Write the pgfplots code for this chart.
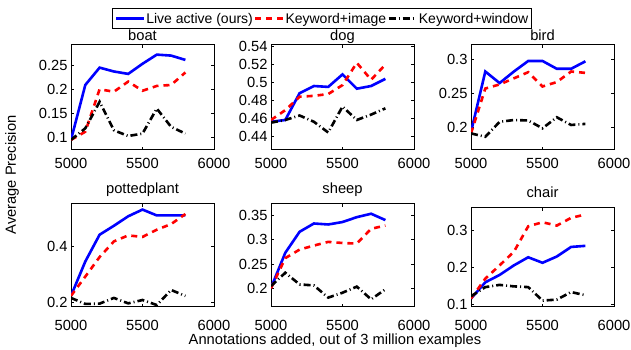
\documentclass[border=0pt]{standalone}
\usepackage{pgfplots}
\pgfplotsset{compat=1.18}
\usepackage{fontspec}
\setmainfont{Liberation Sans}
\newcommand{\fs}{\fontsize{14.7}{17}\selectfont}
\newcommand{\fl}{\fontsize{14}{16}\selectfont}
\pgfplotsset{
  myax/.style={
    scale only axis, width=143pt, height=105pt,
    xmin=5000, xmax=6000, xtick={5000,5500,6000},
    tick align=inside, tick pos=both, major tick length=3pt,
    axis line style={line width=1pt}, every tick/.style={black, line width=0.8pt},
    /pgf/number format/assume math mode=true,
    /pgf/number format/set thousands separator={},
    font=\fs, tick label style={font=\fs},
    xticklabel style={yshift=-5pt},
    title style={at={(0.5,1)}, anchor=base, yshift=-2pt, font=\fs},
    clip=true,
  },
  lowrow/.style={height=103pt, title style={yshift=6pt}, xticklabel style={yshift=-5pt}},
  s1/.style={color={rgb,255:red,0;green,0;blue,255}, line width=2.6pt, solid},
  s2/.style={color={rgb,255:red,255;green,0;blue,0}, line width=2.6pt, dash pattern=on 6pt off 5pt},
  s3/.style={black, line width=2.6pt, dash pattern=on 7pt off 3pt on 1pt off 3pt},
}
\begin{document}
\begin{tikzpicture}
\path[use as bounding box] (0,0) rectangle (631pt,350pt);
% boat
\begin{axis}[myax, at={(71pt,305pt)}, anchor=north west, title={boat},
  ymin=0.074, ymax=0.292, ytick={0.1,0.15,0.2,0.25},
  legend style={at={(1.755,1.25)}, anchor=center, legend columns=3, draw=black, line width=1pt,
    font=\fl, inner xsep=2pt, inner ysep=3pt, nodes={inner sep=1pt},
    /tikz/every even column/.append style={column sep=0pt}},
  legend image code/.code={\draw[#1] plot coordinates {(0pt,0pt) (14pt,0pt) (28pt,0pt)};},
  legend cell align=left]
\addplot[s1] coordinates {(5000,0.095) (5100,0.209) (5200,0.245) (5300,0.237) (5400,0.232) (5500,0.253) (5600,0.272) (5700,0.270) (5800,0.261)};
\addplot[s2] coordinates {(5000,0.095) (5100,0.112) (5200,0.200) (5300,0.195) (5400,0.216) (5500,0.197) (5600,0.207) (5700,0.209) (5800,0.235)};
\addplot[s3] coordinates {(5000,0.095) (5100,0.119) (5200,0.174) (5300,0.115) (5400,0.103) (5500,0.108) (5600,0.160) (5700,0.122) (5800,0.108)};
\legend{Live active (ours),Keyword+image,Keyword+window}
\end{axis}
% dog
\begin{axis}[myax, at={(271pt,305pt)}, anchor=north west, title={dog},
  ymin=0.4244, ymax=0.5419, ytick={0.44,0.46,0.48,0.5,0.52,0.54}]
\addplot[s1] coordinates {(5000,0.456) (5100,0.458) (5200,0.488) (5300,0.496) (5400,0.495) (5500,0.509) (5600,0.493) (5700,0.496) (5800,0.504)};
\addplot[s2] coordinates {(5000,0.458) (5100,0.469) (5200,0.484) (5300,0.485) (5400,0.487) (5500,0.497) (5600,0.522) (5700,0.503) (5800,0.520)};
\addplot[s3] coordinates {(5000,0.455) (5100,0.458) (5200,0.463) (5300,0.456) (5400,0.444) (5500,0.473) (5600,0.458) (5700,0.464) (5800,0.471)};
\end{axis}
% bird
\begin{axis}[myax, at={(471pt,305pt)}, anchor=north west, title={bird},
  ymin=0.1666, ymax=0.321, ytick={0.2,0.25,0.3}]
\addplot[s1] coordinates {(5000,0.193) (5100,0.282) (5200,0.265) (5300,0.282) (5400,0.2975) (5500,0.2975) (5600,0.286) (5700,0.286) (5800,0.297)};
\addplot[s2] coordinates {(5000,0.191) (5100,0.257) (5200,0.263) (5300,0.272) (5400,0.281) (5500,0.260) (5600,0.2665) (5700,0.282) (5800,0.280)};
\addplot[s3] coordinates {(5000,0.191) (5100,0.186) (5200,0.208) (5300,0.2107) (5400,0.210) (5500,0.1985) (5600,0.2147) (5700,0.2034) (5800,0.205)};
\end{axis}
% pottedplant
\begin{axis}[myax, lowrow, at={(71pt,146pt)}, anchor=north west, title={pottedplant},
  ymin=0.183, ymax=0.552, ytick={0.2,0.4}]
\addplot[s1] coordinates {(5000,0.223) (5100,0.346) (5200,0.442) (5300,0.474) (5400,0.508) (5500,0.532) (5600,0.511) (5700,0.511) (5800,0.511)};
\addplot[s2] coordinates {(5000,0.223) (5100,0.292) (5200,0.362) (5300,0.418) (5400,0.4395) (5500,0.434) (5600,0.460) (5700,0.480) (5800,0.516)};
\addplot[s3] coordinates {(5000,0.2155) (5100,0.194) (5200,0.195) (5300,0.2155) (5400,0.196) (5500,0.208) (5600,0.190) (5700,0.244) (5800,0.2226)};
\end{axis}
% sheep
\begin{axis}[myax, lowrow, at={(271pt,146pt)}, anchor=north west, title={sheep},
  ymin=0.1617, ymax=0.373, ytick={0.2,0.25,0.3,0.35}]
\addplot[s1] coordinates {(5000,0.201) (5100,0.273) (5200,0.316) (5300,0.333) (5400,0.331) (5500,0.336) (5600,0.346) (5700,0.353) (5800,0.340)};
\addplot[s2] coordinates {(5000,0.200) (5100,0.262) (5200,0.2795) (5300,0.2877) (5400,0.2953) (5500,0.293) (5600,0.2918) (5700,0.322) (5800,0.329)};
\addplot[s3] coordinates {(5000,0.2047) (5100,0.232) (5200,0.208) (5300,0.206) (5400,0.181) (5500,0.191) (5600,0.2035) (5700,0.1775) (5800,0.198)};
\end{axis}
% chair
\begin{axis}[myax, lowrow, height=99pt, at={(471pt,142pt)}, anchor=north west, title={chair},
  ymin=0.093, ymax=0.3617, ytick={0.1,0.2,0.3}]
\addplot[s1] coordinates {(5000,0.116) (5100,0.160) (5200,0.180) (5300,0.206) (5400,0.228) (5500,0.213) (5600,0.230) (5700,0.256) (5800,0.259)};
\addplot[s2] coordinates {(5000,0.116) (5100,0.170) (5200,0.206) (5300,0.243) (5400,0.312) (5500,0.323) (5600,0.314) (5700,0.335) (5800,0.344)};
\addplot[s3] coordinates {(5000,0.122) (5100,0.147) (5200,0.153) (5300,0.149) (5400,0.147) (5500,0.1105) (5600,0.113) (5700,0.1335) (5800,0.125)};
\end{axis}
\node[rotate=90, font=\fs] at (12pt,175pt) {Average Precision};
\node[font=\fs] at (335pt,9pt) {Annotations added, out of 3 million examples};
\end{tikzpicture}
\end{document}
